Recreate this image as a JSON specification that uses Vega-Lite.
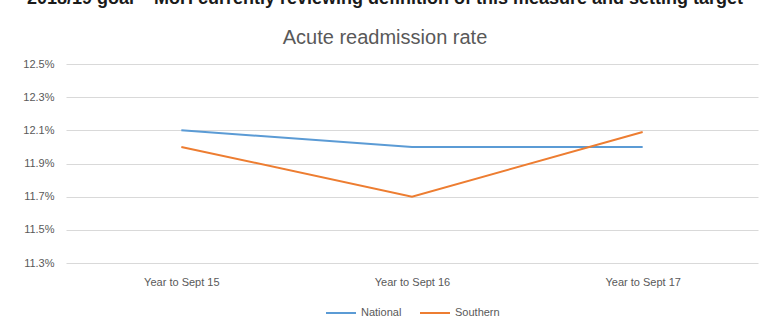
{
  "$schema": "https://vega.github.io/schema/vega-lite/v6.json",
  "width": 769,
  "height": 328,
  "autosize": {"type": "fit", "contains": "padding"},
  "padding": {"left": 22, "right": 11, "top": -10, "bottom": 10},
  "background": "white",
  "title": {
    "text": "2018/19 goal – MoH currently reviewing definition of this measure and setting target",
    "subtitle": "Acute readmission rate",
    "anchor": "middle",
    "frame": "group",
    "dx": -27,
    "font": "Liberation Sans",
    "fontSize": 18,
    "fontWeight": "bold",
    "color": "#1a1a1a",
    "subtitleFont": "Liberation Sans",
    "subtitleFontSize": 20,
    "subtitleColor": "#595959",
    "subtitlePadding": 20,
    "offset": 10
  },
  "config": {
    "view": {"stroke": null},
    "font": "Liberation Sans",
    "legend": {"layout": {"bottom": {"anchor": "middle"}}}
  },
  "data": {
    "values": [
      {"period": "Year to Sept 15", "series": "National", "rate": 0.121},
      {"period": "Year to Sept 16", "series": "National", "rate": 0.120},
      {"period": "Year to Sept 17", "series": "National", "rate": 0.120},
      {"period": "Year to Sept 15", "series": "Southern", "rate": 0.120},
      {"period": "Year to Sept 16", "series": "Southern", "rate": 0.117},
      {"period": "Year to Sept 17", "series": "Southern", "rate": 0.1209}
    ]
  },
  "mark": {"type": "line", "strokeWidth": 2},
  "encoding": {
    "x": {
      "field": "period",
      "type": "ordinal",
      "scale": {"type": "point", "padding": 0.5},
      "axis": {
        "title": null,
        "labelAngle": 0,
        "labelFontSize": 11,
        "labelColor": "#595959",
        "labelPadding": 13,
        "domain": false,
        "ticks": false,
        "grid": false
      }
    },
    "y": {
      "field": "rate",
      "type": "quantitative",
      "scale": {"domain": [0.113, 0.125], "nice": false, "zero": false},
      "axis": {
        "title": null,
        "values": [0.113, 0.115, 0.117, 0.119, 0.121, 0.123, 0.125],
        "format": ".1%",
        "labelFontSize": 11,
        "labelColor": "#595959",
        "labelPadding": 12,
        "domain": false,
        "ticks": false,
        "gridColor": "#d9d9d9",
        "gridWidth": 1
      }
    },
    "color": {
      "field": "series",
      "type": "nominal",
      "scale": {"domain": ["National", "Southern"], "range": ["#5b9bd5", "#ed7d31"]},
      "legend": {
        "title": null,
        "orient": "bottom",
        "direction": "horizontal",
        "symbolType": "stroke",
        "symbolSize": 900,
        "symbolStrokeWidth": 2,
        "labelFontSize": 11,
        "labelColor": "#595959",
        "columnPadding": 14,
        "offset": 10
      }
    }
  }
}
